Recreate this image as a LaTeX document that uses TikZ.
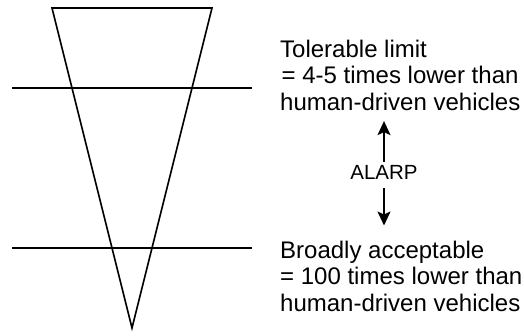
\documentclass[tikz,border=0pt]{standalone}
\usepackage{fontspec}
\setmainfont{Liberation Sans}
\usetikzlibrary{arrows.meta}
\begin{document}
\begin{tikzpicture}[x=1pt,y=-1pt]
\useasboundingbox (0,0) rectangle (524,335);
\tikzstyle{riskline} = [draw=black,line width=1.6pt]
\tikzstyle{risktext} = [anchor=north west,align=left,inner sep=0pt,font=\fontsize{24}{26.8}\selectfont]
\tikzstyle{riskarrow} = [draw=black,line width=1.6pt,-{Stealth[length=14pt,width=13pt,inset=3pt]}]
% inverted triangle
\coordinate (tl) at (52,8);
\coordinate (tr) at (212,8);
\coordinate (apex) at (132,328);
\draw [riskline,line join=miter] (tl) -- (tr) -- (apex) -- cycle;
% limit lines
\coordinate (tol_l) at (12,88);
\coordinate (tol_r) at (252,88);
\coordinate (acc_l) at (12,248);
\coordinate (acc_r) at (252,248);
\draw [riskline] (tol_l) -- (tol_r);
\draw [riskline] (acc_l) -- (acc_r);
%%%%%%%%%%%%%%%%%%%%%%%%%%%%%
% labels
%%%%%%%%%%%%%%%%%%%%%%%%%%%%%
\node (tol) [risktext] at (280,39.5){Tolerable limit\\\hspace{1.5pt}= 4-5 times lower than\\human-driven vehicles};
\node (acc) [risktext] at (280,240.5){Broadly acceptable\\= 100 times lower than\\human-driven vehicles};
\node (alarp) [inner sep=0pt,font=\fontsize{20.5}{24}\selectfont] at (384,172){ALARP};
\draw [riskarrow,shorten <=3pt,shorten >=10pt] (alarp.north) -- (alarp.north |- tol.south);
\draw [riskarrow,shorten <=9pt,shorten >=15pt] (alarp.south) -- (alarp.south |- acc.north);
\end{tikzpicture}
\end{document}
